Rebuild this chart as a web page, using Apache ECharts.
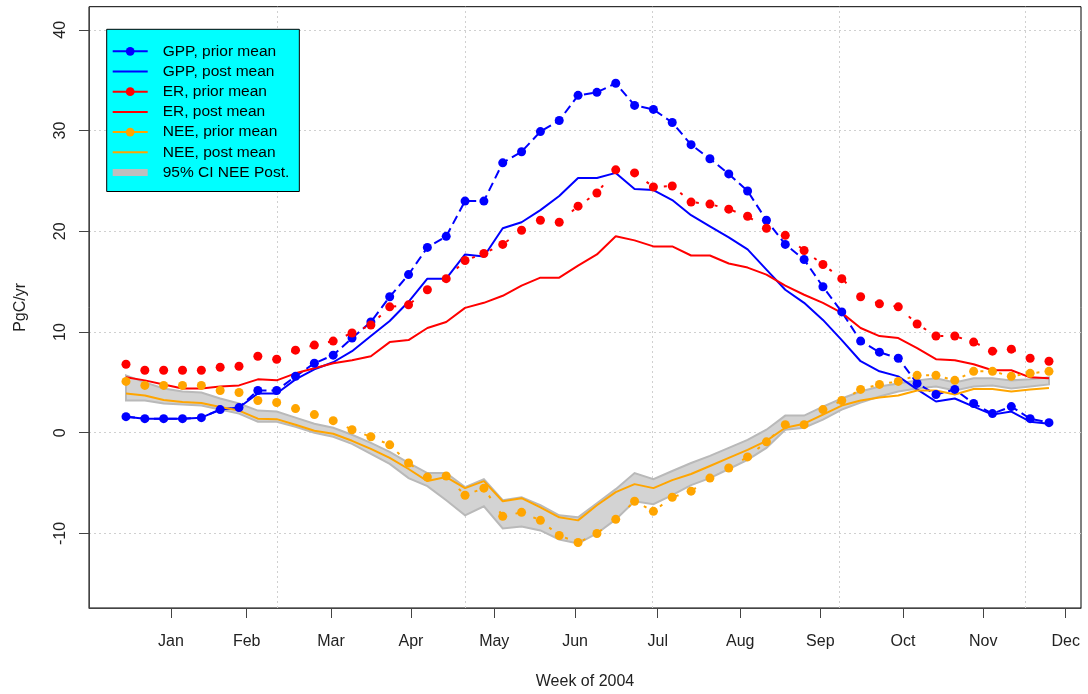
<!DOCTYPE html>
<html><head><meta charset="utf-8">
<script src="https://cdn.jsdelivr.net/npm/echarts@6/dist/echarts.min.js"></script>
<style>html,body{margin:0;padding:0;background:#fff}#c{width:1088px;height:694px}</style>
</head><body><div id="c"></div>
<script>
// week index of each weekly estimate
const weeks = [1,2,3,4,5,6,7,8,9,10,11,12,13,14,15,16,17,18,19,20,21,22,23,24,25,26,27,28,29,30,31,32,33,34,35,36,37,38,39,40,41,42,43,44,45,46,47,48,49,50];
const gppPrior = [1.6,1.4,1.4,1.4,1.5,2.3,2.5,4.2,4.2,5.6, 6.9,7.7,9.4,11.0,13.5,15.7,18.4,19.5,23.0,23.0, 26.8,27.9,29.9,31.0,33.5,33.8,34.7,32.5,32.1,30.8, 28.6,27.2,25.7,24.0,21.1,18.7,17.2,14.5,12.0,9.1, 8.0,7.4,4.9,3.8,4.3,2.9,1.9,2.6,1.4,1.0];
const gppPost = [1.6,1.4,1.4,1.4,1.5,2.3,2.5,3.9,3.9,5.3, 6.3,7.0,8.1,9.6,11.1,13.0,15.3,15.3,17.7,17.5, 20.3,20.9,22.1,23.5,25.3,25.3,25.8,24.2,24.1,23.1, 21.6,20.5,19.4,18.2,16.2,14.2,12.9,11.2,9.2,7.1, 6.1,5.6,4.3,3.1,3.4,2.6,1.8,2.1,1.1,0.9];
const erPrior = [6.8,6.2,6.2,6.2,6.2,6.5,6.6,7.6,7.3,8.2, 8.7,9.1,9.9,10.7,12.5,12.7,14.2,15.3,17.1,17.8, 18.7,20.1,21.1,20.9,22.5,23.8,26.1,25.8,24.4,24.5, 22.9,22.7,22.2,21.5,20.3,19.6,18.1,16.7,15.3,13.5, 12.8,12.5,10.8,9.6,9.6,9.0,8.1,8.3,7.4,7.1];
const erPost = [5.5,5.2,4.8,4.4,4.4,4.6,4.7,5.3,5.2,5.9, 6.4,6.9,7.2,7.6,9.0,9.2,10.4,11.0,12.4,12.9, 13.6,14.6,15.4,15.4,16.6,17.7,19.5,19.1,18.5,18.5, 17.6,17.6,16.8,16.4,15.7,14.6,13.7,12.9,11.9,10.4, 9.6,9.4,8.4,7.3,7.2,6.8,6.2,6.2,5.5,5.4];
const neePrior = [5.1,4.7,4.7,4.7,4.7,4.2,4.0,3.2,3.0,2.4, 1.8,1.2,0.3,-0.4,-1.2,-3.0,-4.4,-4.3,-6.2,-5.5, -8.3,-7.9,-8.7,-10.2,-10.9,-10.0,-8.6,-6.8,-7.8,-6.4, -5.8,-4.5,-3.5,-2.4,-0.9,0.8,0.8,2.3,3.2,4.3, 4.8,5.1,5.7,5.7,5.2,6.1,6.1,5.6,5.9,6.1];
const neePost = [3.9,3.7,3.25,3.05,2.95,2.55,2.2,1.4,1.35,0.8, 0.2,-0.1,-0.8,-1.6,-2.5,-3.6,-4.8,-4.4,-5.5,-4.8, -6.8,-6.5,-7.4,-8.4,-8.7,-7.2,-5.9,-5.1,-5.5,-4.7, -4.1,-3.3,-2.5,-1.7,-0.8,0.5,0.9,1.8,2.7,3.2, 3.5,3.7,4.2,4.2,3.8,4.35,4.35,4.1,4.3,4.45];
const ciUpper = [5.7,5.0,4.4,4.1,4.0,3.4,2.9,2.2,2.1,1.5, 0.9,0.5,-0.2,-1.0,-1.9,-3.0,-4.0,-4.0,-5.4,-4.6, -6.7,-6.4,-7.2,-8.2,-8.4,-7.0,-5.6,-4.0,-4.6,-3.8, -3.0,-2.3,-1.5,-0.7,0.3,1.7,1.7,2.6,3.4,4.1, 4.6,4.9,5.2,5.4,5.0,5.4,5.4,5.2,5.3,5.5];
const ciLower = [3.2,3.2,2.9,2.8,2.7,2.3,1.9,1.1,1.1,0.6, 0.0,-0.4,-1.1,-2.1,-3.1,-4.5,-5.3,-6.7,-8.2,-7.3, -9.5,-9.3,-9.7,-10.6,-11.0,-10.0,-8.6,-6.8,-7.1,-6.2, -5.2,-4.5,-3.6,-2.7,-1.5,0.3,0.5,1.3,2.3,3.0, 3.6,4.1,4.4,4.6,4.2,4.6,4.7,4.4,4.6,4.8];
// axis tick labels and their positions (in week-index units)
const monthLabels = ['Jan','Feb','Mar','Apr','May','Jun','Jul','Aug','Sep','Oct','Nov','Dec'];
const monthTicks = [3.39,7.41,11.88,16.13,20.55,24.84,29.23,33.61,37.86,42.25,46.51,50.89];
const gridX = [9.02,19.0,28.94,38.87,48.76];
const yTicks = [-10,0,10,20,30,40];

const pairs = arr => weeks.map((w,i)=>[w, arr[i]]);
const FONT = 'Liberation Sans';
const monthLabel = v => {
  let best = 0, d = 1e9;
  monthTicks.forEach((t,i)=>{ if (Math.abs(t-v) < d) { d = Math.abs(t-v); best = i; } });
  return monthLabels[best];
};
const gridLine = {color:'#d0d0d0', width:1, type:[2,3]};

const chart = echarts.init(document.getElementById('c'), null, {renderer:'canvas'});
chart.setOption({
  animation:false,
  backgroundColor:'#ffffff',
  textStyle:{fontFamily:FONT},
  grid:{left:89, top:6.7, right:7, bottom:86, show:true, borderColor:'#000', borderWidth:1, backgroundColor:'transparent', outerBoundsMode:'none', containLabel:false},
  xAxis:{
    type:'value', min:-0.964, max:51.70,
    name:'Week of 2004', nameLocation:'middle', nameGap:66,
    nameTextStyle:{fontSize:16, color:'#222', fontFamily:FONT},
    axisLine:{show:true, onZero:false, lineStyle:{color:'#444', width:1}},
    axisTick:{show:true, customValues:monthTicks, length:10, inside:false, lineStyle:{color:'#444', width:1}},
    axisLabel:{show:true, customValues:monthTicks, formatter:v=>monthLabel(v), margin:26, fontSize:16, color:'#222', fontFamily:FONT},
    splitLine:{show:false}
  },
  yAxis:{
    type:'value', min:-17.4, max:42.3,
    name:'PgC/yr', nameLocation:'middle', nameGap:60, nameRotate:90,
    nameTextStyle:{fontSize:16, color:'#222', fontFamily:FONT},
    axisLine:{show:true, onZero:false, lineStyle:{color:'#444', width:1}},
    axisTick:{show:true, customValues:yTicks, length:10, inside:false, lineStyle:{color:'#444', width:1}},
    axisLabel:{show:true, customValues:yTicks, rotate:90, margin:20, fontSize:16, color:'#222', fontFamily:FONT},
    splitLine:{show:false}
  },
  legend:{
    orient:'vertical', left:106.7, top:29.3, z:10,
    backgroundColor:'#00ffff', borderColor:'#000', borderWidth:1, borderRadius:0,
    padding:[14,10,11,5], itemWidth:35, itemHeight:11, itemGap:4.2,
    selectedMode:false,
    textStyle:{fontSize:15.5, color:'#000', fontFamily:FONT, padding:[0,0,0,10]},
    data:[
      {name:'GPP, prior mean', lineStyle:{type:'solid', width:2}},
      {name:'GPP, post mean', lineStyle:{width:2}, itemStyle:{opacity:0}},
      {name:'ER, prior mean', lineStyle:{type:'solid', width:2}},
      {name:'ER, post mean', lineStyle:{width:2}, itemStyle:{opacity:0}},
      {name:'NEE, prior mean', lineStyle:{type:'solid', width:2}},
      {name:'NEE, post mean', lineStyle:{width:2}, itemStyle:{opacity:0}},
      {name:'95% CI NEE Post.', icon:'path://M0,0L35,0L35,7L0,7Z', itemStyle:{color:'#bebebe'}}
    ]
  },
  series:[
    {
      name:'grid', type:'line', data:[], silent:true, z:0,
      markLine:{silent:true, z:0, symbol:'none', label:{show:false}, lineStyle:gridLine, animation:false,
        data: gridX.map(v=>({xAxis:v})).concat(yTicks.map(v=>({yAxis:v})))}
    },
    {
      name:'95% CI NEE Post.', type:'custom', z:1, silent:true,
      itemStyle:{color:'#bebebe'},
      data: weeks.map((w,i)=>[w, ciLower[i], ciUpper[i]]),
      encode:{x:0, y:[1,2]},
      renderItem:(params, api)=>{
        if (params.dataIndex !== 0) return null;
        const pts = [];
        for (let i = 0; i < weeks.length; i++) pts.push(api.coord([weeks[i], ciUpper[i]]));
        for (let i = weeks.length - 1; i >= 0; i--) pts.push(api.coord([weeks[i], ciLower[i]]));
        return {type:'polygon', shape:{points:pts}, style:{fill:'#d3d3d3', stroke:'#b9b9b9', lineWidth:2}};
      }
    },
    {name:'GPP, prior mean', type:'line', data:pairs(gppPrior), symbol:'circle', symbolSize:9, z:3,
      itemStyle:{color:'#0000ff'}, lineStyle:{color:'#0000ff', width:2, type:[9,5]}},
    {name:'GPP, post mean', type:'line', data:pairs(gppPost), symbol:'none', z:3,
      itemStyle:{color:'#0000ff'}, lineStyle:{color:'#0000ff', width:2}},
    {name:'ER, prior mean', type:'line', data:pairs(erPrior), symbol:'circle', symbolSize:9, z:3,
      itemStyle:{color:'#ff0000'}, lineStyle:{color:'#ff0000', width:2, type:[3,16]}},
    {name:'ER, post mean', type:'line', data:pairs(erPost), symbol:'none', z:3,
      itemStyle:{color:'#ff0000'}, lineStyle:{color:'#ff0000', width:2}},
    {name:'NEE, prior mean', type:'line', data:pairs(neePrior), symbol:'circle', symbolSize:9, z:3,
      itemStyle:{color:'#ffa500'}, lineStyle:{color:'#ffa500', width:2, type:[3,16]}},
    {name:'NEE, post mean', type:'line', data:pairs(neePost), symbol:'none', z:3,
      itemStyle:{color:'#ffa500'}, lineStyle:{color:'#ffa500', width:2}}
  ]
});
</script>
</body></html>
